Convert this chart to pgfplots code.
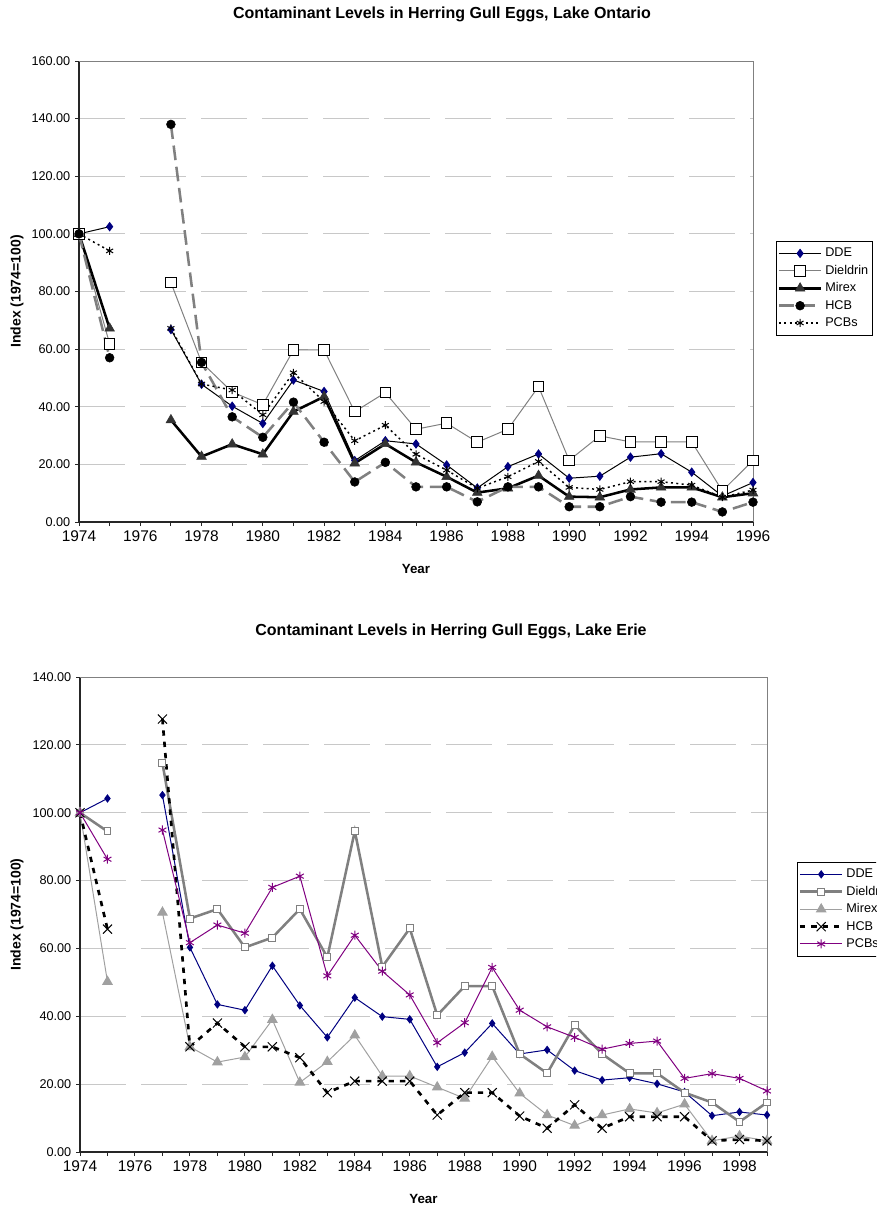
\documentclass[border=0pt]{standalone}
\usepackage{fontspec}
\setmainfont{Liberation Sans}
\usepackage{pgfplots}
\pgfplotsset{compat=1.18}

\definecolor{ddeblue}{HTML}{000080}
\definecolor{midgray}{HTML}{808080}
\definecolor{mirexgray}{HTML}{A0A0A0}
\definecolor{gridgray}{HTML}{C8C8C8}
\definecolor{pcbpurple}{HTML}{800080}
\definecolor{darkfill}{HTML}{333333}

\pgfplotsset{
  gullaxis/.style={
    scale only axis,
    axis lines*=left,
    axis line style={black!85, line width=1pt},
    ymin=0,
    ymajorgrids,
    grid style={gridgray, line width=0.75pt, dash pattern=on 34.5pt off 11.25pt},
    tick align=outside,
    major tick length=3pt, minor tick length=3pt,
    tick style={black!85, line width=0.75pt},
    xticklabel style={font=\fontsize{11.6}{13}\selectfont, /pgf/number format/1000 sep=},
    yticklabel style={font=\fontsize{9.5}{11}\selectfont,
      /pgf/number format/fixed, /pgf/number format/fixed zerofill,
      /pgf/number format/precision=2},
    /pgf/number format/assume math mode=true,
    unbounded coords=jump,
    clip=false,
    legend cell align=left,
    legend style={draw=black, line width=0.5pt, fill=white,
      font=\fontsize{9.5}{10}\selectfont, anchor=north west,
      row sep=0.8pt, inner xsep=1pt, inner ysep=3pt,
      /tikz/every even column/.append style={column sep=1.5pt}},
    legend image code/.code={%
      \draw[mark repeat=2, mark phase=2]
        plot coordinates {(0cm,0cm) (0.56cm,0cm) (1.12cm,0cm)};},
  },
  % Lake Ontario series
  ddeT/.style={black, line width=0.75pt, mark=diamond*, mark size=3pt,
    mark options={solid, fill=ddeblue, draw=ddeblue}},
  dieldrinT/.style={midgray, line width=0.75pt, mark=square*, mark size=4pt,
    mark options={solid, fill=white, draw=black, line width=0.75pt}},
  mirexT/.style={black, line width=1.9pt, mark=triangle*, mark size=4.2pt,
    mark options={solid, fill=darkfill, draw=darkfill, line width=0.4pt}},
  hcbT/.style={midgray, line width=1.9pt, dash pattern=on 11pt off 5pt,
    mark=*, mark size=3.3pt,
    mark options={solid, fill=black, draw=black, line width=0.4pt}},
  pcbT/.style={black, line width=1.1pt, dash pattern=on 1.5pt off 2.5pt,
    mark=asterisk, mark size=3pt,
    mark options={solid, black, line width=0.75pt}},
  % Lake Erie series
  ddeB/.style={ddeblue, line width=0.75pt, mark=diamond*, mark size=2.6pt,
    mark options={solid, fill=ddeblue, draw=ddeblue}},
  dieldrinB/.style={midgray, line width=1.9pt, mark=square*, mark size=2.6pt,
    mark options={solid, fill=white, draw=midgray, line width=0.75pt}},
  mirexB/.style={mirexgray, line width=0.75pt, mark=triangle*, mark size=4pt,
    mark options={solid, fill=mirexgray, draw=mirexgray}},
  hcbB/.style={black, line width=2pt, dash pattern=on 4pt off 4.5pt,
    mark=x, mark size=4.8pt,
    mark options={solid, black, line width=0.75pt}},
  pcbB/.style={pcbpurple, line width=0.75pt, mark=asterisk, mark size=3.4pt,
    mark options={solid, pcbpurple, line width=0.75pt}},
}

\begin{document}
\begin{tikzpicture}
\useasboundingbox (0,0) rectangle (657pt,-905.25pt);
\clip (0,0) rectangle (657pt,-905.25pt);

% ---------------- Lake Ontario ----------------
\node[font=\fontsize{12}{14}\bfseries] at (331.5pt,-10.5pt)
  {Contaminant Levels in Herring Gull Eggs, Lake Ontario};
\node[font=\fontsize{10}{12}\bfseries] at (312pt,-426.75pt) {Year};
\node[font=\fontsize{10.5}{12}\bfseries, rotate=90] at (12.75pt,-218.6pt) {Index (1974=100)};

\begin{axis}[gullaxis,
  at={(59.25pt,-391.5pt)}, anchor=south west,
  width=505.5pt, height=345.75pt,
  xmin=1974, xmax=1996, ymax=160,
  xtick={1974,1976,...,1996}, minor xtick={1975,1977,...,1995},
  ytick={0,20,...,160},
  legend style={at={(1.034,0.6095)}},
]
\draw[midgray, line width=0.75pt] (rel axis cs:0,1) -- (rel axis cs:1,1) -- (rel axis cs:1,0);
\addplot[ddeT] coordinates {
 (1974,100) (1975,102.5) (1976,nan) (1977,66.8) (1978,47.8) (1979,40.2)
 (1980,34.2) (1981,49.3) (1982,45.3) (1983,21.3) (1984,28.2) (1985,27.1)
 (1986,19.8) (1987,11.8) (1988,19.2) (1989,23.6) (1990,15.2) (1991,15.9)
 (1992,22.5) (1993,23.7) (1994,17.3) (1995,9.0) (1996,13.7)};
\addlegendentry{DDE}
\addplot[dieldrinT] coordinates {
 (1974,100) (1975,61.8) (1976,nan) (1977,83.1) (1978,55.4) (1979,45.1)
 (1980,40.7) (1981,59.7) (1982,59.7) (1983,38.3) (1984,44.9) (1985,32.2)
 (1986,34.3) (1987,27.7) (1988,32.2) (1989,47.0) (1990,21.4) (1991,29.9)
 (1992,27.8) (1993,27.8) (1994,27.8) (1995,10.8) (1996,21.4)};
\addlegendentry{Dieldrin}
\addplot[mirexT] coordinates {
 (1974,100) (1975,67.2) (1976,nan) (1977,35.4) (1978,22.7) (1979,27.0)
 (1980,23.5) (1981,38.3) (1982,43.5) (1983,20.4) (1984,27.1) (1985,20.7)
 (1986,15.7) (1987,10.2) (1988,11.7) (1989,16.1) (1990,8.8) (1991,8.6)
 (1992,11.3) (1993,12.0) (1994,12.0) (1995,8.6) (1996,10.0)};
\addlegendentry{Mirex}
\addplot[hcbT] coordinates {
 (1974,100) (1975,57.0) (1976,nan) (1977,138.0) (1978,55.4) (1979,36.5)
 (1980,29.4) (1981,41.6) (1982,27.7) (1983,13.9) (1984,20.7) (1985,12.2)
 (1986,12.2) (1987,7.0) (1988,12.2) (1989,12.2) (1990,5.3) (1991,5.3)
 (1992,8.8) (1993,6.9) (1994,6.9) (1995,3.5) (1996,6.9)};
\addlegendentry{HCB}
\addplot[pcbT] coordinates {
 (1974,100) (1975,94.1) (1976,nan) (1977,67.2) (1978,47.9) (1979,45.8)
 (1980,37.2) (1981,51.8) (1982,41.8) (1983,28.2) (1984,33.6) (1985,23.5)
 (1986,18.0) (1987,11.7) (1988,15.7) (1989,21.0) (1990,12.0) (1991,11.3)
 (1992,14.0) (1993,14.0) (1994,12.8) (1995,8.6) (1996,11.1)};
\addlegendentry{PCBs}
\end{axis}

% ---------------- Lake Erie ----------------
\node[font=\fontsize{12}{14}\bfseries] at (338.25pt,-473.25pt)
  {Contaminant Levels in Herring Gull Eggs, Lake Erie};
\node[font=\fontsize{10}{12}\bfseries] at (317.6pt,-899.25pt) {Year};
\node[font=\fontsize{10.5}{12}\bfseries, rotate=90] at (12.75pt,-685.9pt) {Index (1974=100)};

\begin{axis}[gullaxis,
  at={(60pt,-864pt)}, anchor=south west,
  width=515.25pt, height=356.25pt,
  xmin=1974, xmax=1999, ymax=140,
  xtick={1974,1976,...,1998}, minor xtick={1975,1977,...,1999},
  ytick={0,20,...,140},
  legend style={at={(1.0436,0.6105)}},
]
\draw[midgray, line width=0.75pt] (rel axis cs:0,1) -- (rel axis cs:1,1) -- (rel axis cs:1,0);
\addplot[ddeB] coordinates {
 (1974,100) (1975,104.2) (1976,nan) (1977,105.2) (1978,60.3) (1979,43.5)
 (1980,41.8) (1981,54.9) (1982,43.2) (1983,33.8) (1984,45.5) (1985,39.9)
 (1986,39.1) (1987,25.1) (1988,29.3) (1989,37.9) (1990,28.9) (1991,30.1)
 (1992,24.0) (1993,21.2) (1994,21.9) (1995,20.1) (1996,17.7) (1997,10.7)
 (1998,11.8) (1999,10.9)};
\addlegendentry{DDE}
\addplot[dieldrinB] coordinates {
 (1974,100) (1975,94.5) (1976,nan) (1977,114.6) (1978,68.8) (1979,71.6)
 (1980,60.3) (1981,63.2) (1982,71.6) (1983,57.4) (1984,94.6) (1985,54.6)
 (1986,65.9) (1987,40.3) (1988,48.9) (1989,48.9) (1990,28.9) (1991,23.2)
 (1992,37.4) (1993,28.9) (1994,23.2) (1995,23.2) (1996,17.5) (1997,14.6)
 (1998,8.9) (1999,14.6)};
\addlegendentry{Dieldrin}
\addplot[mirexB] coordinates {
 (1974,100) (1975,50.2) (1976,nan) (1977,70.6) (1978,31.0) (1979,26.5)
 (1980,28.0) (1981,39.0) (1982,20.5) (1983,26.6) (1984,34.4) (1985,22.4)
 (1986,22.4) (1987,19.1) (1988,15.8) (1989,28.1) (1990,17.3) (1991,10.9)
 (1992,7.8) (1993,10.9) (1994,12.7) (1995,11.5) (1996,14.1) (1997,3.3)
 (1998,4.7) (1999,3.3)};
\addlegendentry{Mirex}
\addplot[hcbB] coordinates {
 (1974,100) (1975,65.7) (1976,nan) (1977,127.6) (1978,31.0) (1979,38.0)
 (1980,31.0) (1981,31.0) (1982,27.8) (1983,17.5) (1984,20.9) (1985,20.9)
 (1986,20.9) (1987,10.9) (1988,17.5) (1989,17.5) (1990,10.6) (1991,7.0)
 (1992,13.9) (1993,7.0) (1994,10.4) (1995,10.4) (1996,10.4) (1997,3.3)
 (1998,3.7) (1999,3.3)};
\addlegendentry{HCB}
\addplot[pcbB] coordinates {
 (1974,100) (1975,86.3) (1976,nan) (1977,94.9) (1978,61.7) (1979,66.9)
 (1980,64.5) (1981,78.0) (1982,81.3) (1983,51.9) (1984,63.9) (1985,53.3)
 (1986,46.3) (1987,32.2) (1988,38.1) (1989,54.4) (1990,41.8) (1991,36.9)
 (1992,33.8) (1993,30.3) (1994,32.0) (1995,32.7) (1996,21.7) (1997,23.1)
 (1998,21.7) (1999,18.0)};
\addlegendentry{PCBs}
\end{axis}
\end{tikzpicture}
\end{document}
